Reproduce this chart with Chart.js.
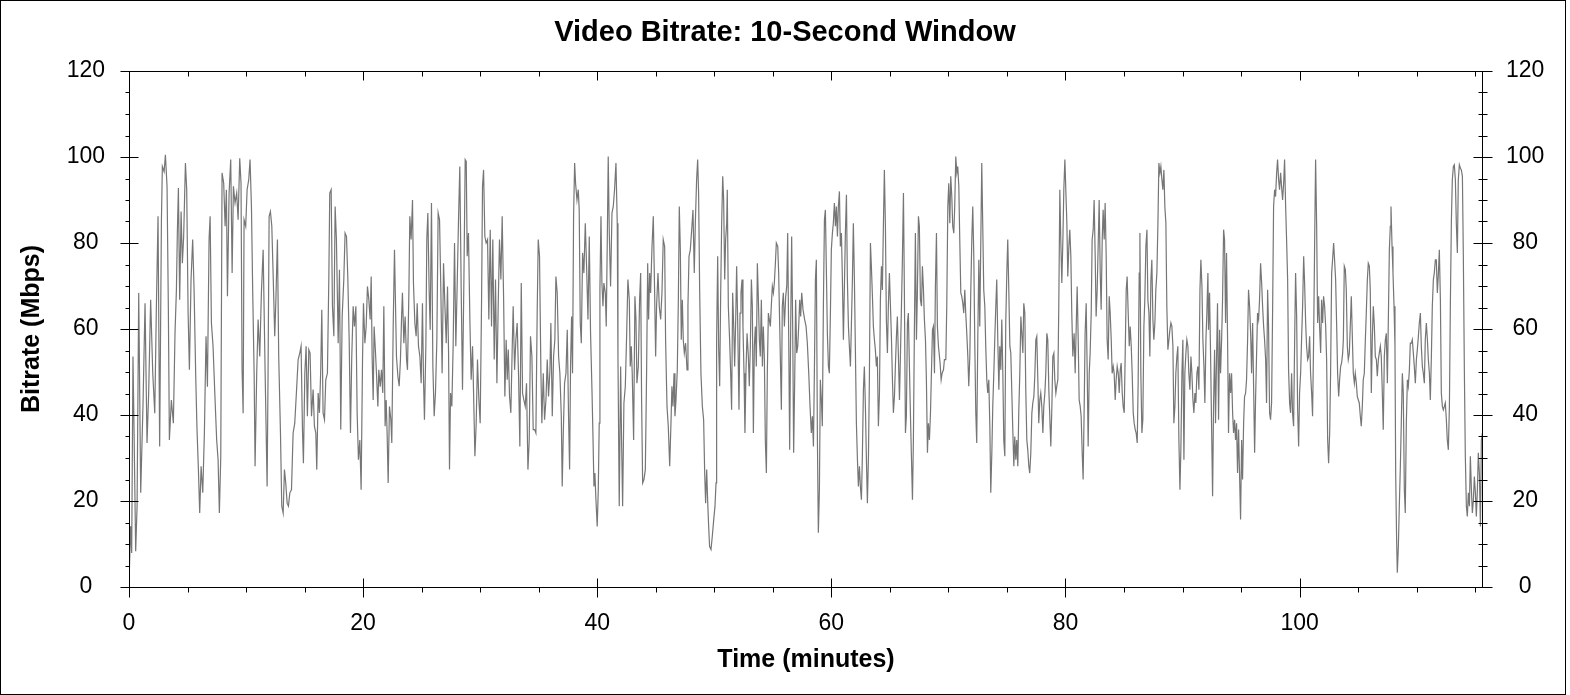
<!DOCTYPE html>
<html>
<head>
<meta charset="utf-8">
<title>Video Bitrate: 10-Second Window</title>
<script src="https://cdn.jsdelivr.net/npm/chart.js"></script>
<style>
  html, body { margin: 0; padding: 0; background: #fff; }
  #wrap { width: 1570px; height: 695px; }
</style>
</head>
<body>
<div id="wrap"><canvas id="chart" width="1570" height="695"></canvas></div>
<script>
// time of each sample, in minutes
const minutes = [
  0, 0.14, 0.23, 0.34, 0.43, 0.57, 0.69, 0.83, 1.00, 1.20,
  1.37, 1.54, 1.68, 1.85, 2.03, 2.20, 2.34, 2.48, 2.62, 2.77,
  2.85, 3.00, 3.11, 3.25, 3.36, 3.45, 3.62, 3.79, 3.93, 4.05,
  4.13, 4.22, 4.33, 4.45, 4.56, 4.67, 4.82, 4.93, 5.05, 5.16,
  5.30, 5.44, 5.56, 5.70, 5.81, 5.93, 6.04, 6.16, 6.30, 6.44,
  6.58, 6.70, 6.84, 6.93, 7.04, 7.18, 7.33, 7.49, 7.61, 7.72,
  7.84, 7.95, 8.09, 8.21, 8.32, 8.41, 8.55, 8.69, 8.81, 8.92,
  9.06, 9.20, 9.32, 9.46, 9.57, 9.66, 9.75, 9.83, 9.97, 10.09,
  10.23, 10.34, 10.46, 10.57, 10.69, 10.77, 10.91, 11.03, 11.17, 11.31,
  11.46,
  11.63, 11.80, 11.88, 11.97, 12.08, 12.20, 12.31, 12.45, 12.54, 12.68,
  12.79, 12.94, 13.05, 13.17, 13.28, 13.39, 13.51, 13.62, 13.74, 13.88,
  14.02, 14.16, 14.30, 14.45, 14.59, 14.70, 14.82, 14.90, 15.02, 15.13,
  15.24, 15.36, 15.47, 15.59, 15.73, 15.84, 15.96, 16.04, 16.16, 16.27,
  16.38, 16.47, 16.58, 16.70, 16.81, 16.95, 17.07, 17.15, 17.27, 17.38,
  17.50, 17.61, 17.72, 17.87, 17.98, 18.09, 18.21, 18.35, 18.46, 18.58,
  18.69, 18.81, 18.92, 19.03, 19.15, 19.26, 19.38, 19.49, 19.60, 19.72,
  19.83, 19.95, 20.03, 20.15, 20.26, 20.37, 20.49, 20.60, 20.69, 20.77,
  20.86, 20.94, 21.06, 21.14, 21.26, 21.34, 21.46, 21.57, 21.68, 21.77,
  21.88, 21.97, 22.05, 22.14, 22.25, 22.37, 22.45, 22.57, 22.68,
  22.85, 22.97, 23.08, 23.19, 23.28, 23.36, 23.48, 23.59, 23.71, 23.79,
  23.91, 23.99, 24.10, 24.22, 24.30, 24.42, 24.53, 24.62, 24.73, 24.85,
  24.96, 25.07, 25.16, 25.24, 25.36, 25.44, 25.53, 25.64, 25.73, 25.84,
  25.96, 26.07, 26.18, 26.30, 26.41, 26.53, 26.64, 26.75, 26.87, 26.98,
  27.10, 27.21, 27.30, 27.38, 27.47, 27.58, 27.69, 27.81, 27.92, 28.04,
  28.15, 28.26, 28.38, 28.49, 28.61, 28.72, 28.81, 28.89, 29.00, 29.12,
  29.23, 29.35, 29.43, 29.55, 29.66, 29.77, 29.89, 30.00, 30.12, 30.20,
  30.29, 30.40, 30.51, 30.63, 30.74, 30.86, 30.97, 31.08, 31.20, 31.31,
  31.43, 31.54, 31.65, 31.77, 31.88, 32.00, 32.11, 32.22, 32.31, 32.40,
  32.51, 32.62, 32.74, 32.82, 32.94, 33.05, 33.16, 33.28, 33.39, 33.51,
  33.62, 33.73, 33.85, 33.96, 34.08, 34.19, 34.30, 34.42, 34.53,
  34.65, 34.76, 34.87, 34.96, 35.07, 35.19, 35.27, 35.39, 35.50, 35.62,
  35.73, 35.84, 35.96, 36.04, 36.16, 36.27, 36.38, 36.47, 36.58, 36.70,
  36.81, 36.93, 37.01, 37.10, 37.21, 37.33, 37.44, 37.55, 37.64, 37.72,
  37.81, 37.89, 37.98, 38.07, 38.15, 38.27, 38.38, 38.46, 38.55, 38.64,
  38.75, 38.86, 38.98, 39.09, 39.21, 39.32, 39.43, 39.55, 39.63, 39.72,
  39.80, 39.89, 40.00, 40.09, 40.17, 40.23, 40.32, 40.40, 40.49, 40.57,
  40.69, 40.77, 40.86, 40.94, 41.03, 41.14, 41.26, 41.37, 41.48, 41.60,
  41.71, 41.77, 41.88, 42.00, 42.08, 42.17, 42.28, 42.40, 42.51, 42.62,
  42.74, 42.82, 42.91, 42.99, 43.11, 43.22, 43.31, 43.39, 43.51, 43.62,
  43.71, 43.79, 43.88, 43.99, 44.11, 44.22, 44.31, 44.39, 44.48, 44.56,
  44.68, 44.79, 44.90, 44.99, 45.07, 45.19, 45.30, 45.42, 45.53, 45.64,
  45.76, 45.84, 45.96, 46.07,
  46.19, 46.30, 46.38, 46.47, 46.56, 46.64, 46.73, 46.84, 46.93, 47.01,
  47.10, 47.18, 47.27, 47.35, 47.44, 47.55, 47.67, 47.75, 47.84, 47.95,
  48.07, 48.18, 48.29, 48.38, 48.49, 48.58, 48.66, 48.75, 48.86, 48.98,
  49.09, 49.18, 49.26, 49.35, 49.43, 49.52, 49.60, 49.72, 49.83, 49.95,
  50.06, 50.15, 50.20, 50.29, 50.37, 50.46, 50.54, 50.63, 50.72, 50.80,
  50.89, 50.97, 51.06, 51.11, 51.20, 51.31, 51.40, 51.48, 51.57, 51.66,
  51.74, 51.83, 51.91, 52.00, 52.11, 52.20, 52.28, 52.37, 52.45, 52.54,
  52.62, 52.71, 52.80, 52.91, 52.99, 53.08, 53.17, 53.25, 53.34, 53.42,
  53.51, 53.59, 53.68, 53.76, 53.85, 53.93, 54.02, 54.11, 54.19, 54.28,
  54.36, 54.45, 54.53, 54.62, 54.70, 54.79, 54.87, 54.96, 55.05, 55.13,
  55.22, 55.30, 55.42, 55.50, 55.59, 55.67, 55.73, 55.81, 55.90, 55.99,
  56.10, 56.19, 56.27, 56.36, 56.44, 56.53, 56.61, 56.70, 56.78, 56.87,
  56.95, 57.04, 57.13, 57.21, 57.30, 57.38, 57.47, 57.58,
  57.72, 57.84, 57.95, 58.07, 58.18, 58.29, 58.38, 58.47, 58.55, 58.64,
  58.72, 58.81, 58.89, 58.98, 59.06, 59.15, 59.23, 59.32, 59.41, 59.49,
  59.58, 59.66, 59.75, 59.83, 59.92, 60.00, 60.09, 60.17, 60.26, 60.35,
  60.43, 60.52, 60.60, 60.69, 60.77, 60.86, 60.94, 61.03, 61.11, 61.20,
  61.29, 61.37, 61.46, 61.54, 61.63, 61.71, 61.80, 61.88, 61.97, 62.05,
  62.14, 62.23, 62.31, 62.40, 62.48, 62.57, 62.65, 62.74, 62.82, 62.91,
  62.99, 63.08, 63.17, 63.25, 63.34, 63.42, 63.51, 63.59, 63.68, 63.76,
  63.85, 63.93, 64.02, 64.11, 64.19, 64.28, 64.36, 64.45, 64.53, 64.62,
  64.70, 64.79, 64.87, 64.96, 65.05, 65.13, 65.22, 65.30, 65.39, 65.47,
  65.56, 65.64, 65.73, 65.82, 65.90, 65.99, 66.07, 66.16, 66.24, 66.33,
  66.41, 66.50, 66.58, 66.67, 66.76, 66.84, 66.93, 67.01, 67.10, 67.18,
  67.27, 67.35, 67.44, 67.52, 67.61, 67.70, 67.78, 67.87, 67.95, 68.04,
  68.12, 68.21, 68.29, 68.38, 68.47, 68.55, 68.64, 68.72, 68.81, 68.89,
  68.98, 69.06,
  69.15, 69.29, 69.38, 69.46, 69.58, 69.66, 69.78, 69.86, 69.95, 70.03,
  70.12, 70.20, 70.29, 70.37, 70.46, 70.54, 70.63, 70.72, 70.80, 70.89,
  70.97, 71.06, 71.14, 71.23, 71.31, 71.40, 71.48, 71.57, 71.66, 71.74,
  71.83, 71.91, 72.00, 72.08, 72.17, 72.25, 72.34, 72.42, 72.51, 72.60,
  72.68, 72.77, 72.85, 72.94, 73.02, 73.11, 73.19, 73.28, 73.36, 73.45,
  73.54, 73.62, 73.71, 73.79, 73.88, 73.96, 74.05, 74.13, 74.22, 74.31,
  74.39, 74.48, 74.56, 74.65, 74.73, 74.82, 74.90, 74.99, 75.07, 75.16,
  75.25, 75.33, 75.42, 75.50, 75.59, 75.67, 75.76, 75.84, 75.93, 76.01,
  76.10, 76.19, 76.27, 76.36, 76.44, 76.53, 76.61, 76.70, 76.78, 76.87,
  76.95, 77.04, 77.13, 77.21, 77.30, 77.38, 77.47, 77.55, 77.64, 77.72,
  77.81, 77.89, 77.98, 78.07, 78.15, 78.24, 78.32, 78.41, 78.49, 78.58,
  78.66, 78.75, 78.84, 78.92, 79.01, 79.09, 79.18, 79.26, 79.35, 79.43,
  79.52, 79.60, 79.69, 79.78, 79.86, 79.95, 80.03, 80.12, 80.20, 80.29,
  80.37, 80.46, 80.54, 80.63,
  80.74, 80.83, 80.92, 81.00, 81.09, 81.17, 81.26, 81.34, 81.43, 81.51,
  81.60, 81.68, 81.77, 81.86, 81.94, 82.03, 82.11, 82.20, 82.28, 82.37,
  82.45, 82.54, 82.62, 82.71, 82.80, 82.88, 82.97, 83.05, 83.14, 83.22,
  83.31, 83.39, 83.48, 83.56, 83.65, 83.74, 83.82, 83.91, 83.99, 84.08,
  84.16, 84.25, 84.33, 84.42, 84.51, 84.59, 84.68, 84.76, 84.85, 84.93,
  85.02, 85.10, 85.19, 85.27, 85.36, 85.45, 85.53, 85.62, 85.70, 85.79,
  85.87, 85.96, 86.04, 86.13, 86.21, 86.30, 86.36, 86.44, 86.53, 86.61,
  86.70, 86.78, 86.87, 86.96, 87.04, 87.13, 87.21, 87.30, 87.38, 87.47,
  87.55, 87.64, 87.72, 87.81, 87.90, 87.98, 88.07, 88.15, 88.24, 88.32,
  88.41, 88.49, 88.58, 88.66, 88.75, 88.84, 88.92, 89.01, 89.09, 89.18,
  89.26, 89.35, 89.43, 89.52, 89.60, 89.69, 89.78, 89.86, 89.95, 90.03,
  90.12, 90.20, 90.29, 90.37, 90.46, 90.54, 90.63, 90.72, 90.80, 90.89,
  90.97, 91.06, 91.14, 91.23, 91.31, 91.40, 91.49, 91.57, 91.66, 91.74,
  91.83, 91.91, 92.00, 92.08, 92.17,
  92.22, 92.31, 92.40, 92.48, 92.57, 92.65, 92.74, 92.82, 92.91, 92.99,
  93.08, 93.17, 93.25, 93.34, 93.42, 93.51, 93.59, 93.68, 93.76, 93.85,
  93.93, 94.02, 94.11, 94.19, 94.28, 94.36, 94.45, 94.53, 94.62, 94.70,
  94.79, 94.87, 94.96, 95.05, 95.13, 95.22, 95.30, 95.39, 95.47, 95.56,
  95.64, 95.73, 95.82, 95.90, 95.99, 96.07, 96.16, 96.24, 96.33, 96.41,
  96.50, 96.58, 96.67, 96.76, 96.84, 96.93, 97.01, 97.10, 97.18, 97.27,
  97.35, 97.44, 97.52, 97.61, 97.70, 97.78, 97.87, 97.95, 98.04, 98.12,
  98.21, 98.29, 98.38, 98.46, 98.55, 98.64, 98.72, 98.81, 98.89, 98.98,
  99.06, 99.15, 99.23, 99.32, 99.40, 99.49, 99.58, 99.66, 99.75, 99.83,
  99.92, 100.00, 100.09, 100.17, 100.26, 100.35, 100.43, 100.52, 100.60, 100.69,
  100.77, 100.86, 100.94, 101.03, 101.11, 101.20, 101.29, 101.37, 101.46, 101.54,
  101.63, 101.71, 101.80, 101.88, 101.97, 102.05, 102.14, 102.23, 102.31, 102.40,
  102.48, 102.57, 102.65, 102.74, 102.82, 102.91, 102.99, 103.08, 103.17, 103.25,
  103.34, 103.42, 103.51, 103.59, 103.68,
  103.74, 103.82, 103.91, 103.99, 104.08, 104.16, 104.25, 104.33, 104.42, 104.50,
  104.59, 104.68, 104.76, 104.85, 104.93, 105.02, 105.10, 105.19, 105.27, 105.36,
  105.44, 105.53, 105.62, 105.70, 105.79, 105.87, 105.96, 106.04, 106.13, 106.21,
  106.30, 106.39, 106.47, 106.56, 106.64, 106.73, 106.81, 106.90, 106.98, 107.07,
  107.15, 107.24, 107.33, 107.41, 107.50, 107.58, 107.67, 107.75, 107.81, 107.90,
  107.98, 108.07, 108.15, 108.21, 108.29, 108.35, 108.44, 108.52, 108.61, 108.69,
  108.78, 108.86, 108.95, 109.03, 109.12, 109.21, 109.29, 109.38, 109.46, 109.55,
  109.63, 109.72, 109.80, 109.89, 109.98, 110.06, 110.15, 110.23, 110.32, 110.40,
  110.49, 110.57, 110.66, 110.74, 110.83, 110.92, 111.00, 111.09, 111.17, 111.26,
  111.34, 111.43, 111.51, 111.60, 111.68, 111.77, 111.86, 111.94, 112.03, 112.11,
  112.20, 112.28, 112.37, 112.45, 112.54, 112.62, 112.71, 112.80, 112.88, 112.97,
  113.05, 113.14, 113.22, 113.31, 113.39, 113.48, 113.56, 113.65, 113.74, 113.82,
  113.91, 113.99, 114.08, 114.16, 114.25, 114.33, 114.42, 114.51, 114.59, 114.68,
  114.76, 114.85, 114.93, 115.02, 115.10, 115.19, 115.27, 115.36, 115.45, 115.53,
  115.62
];

// 10-second window bitrate, Mbps
const mbps = [
  1, 14.1, 7.9, 53.6, 36.6, 8.3, 18.8, 68.4, 21.9, 42.8,
  66, 33.5, 45.1, 66.8, 49.7, 40.4, 65.3, 86.2, 32.7, 85.4,
  97.8, 96.6, 100.5, 93.2, 65.3, 34.2, 43.5, 38.1, 59, 69.1,
  82.3, 92.8, 66.8, 87.3, 75.3, 81.5, 98.6, 92.4, 63.7, 50.5,
  71.5, 80.8, 69.1, 49, 36.6, 27.3, 17.2, 28.1, 21.9, 35.8,
  58.3, 46.6, 80.8, 86.2, 61.4, 56, 45.1, 34.2, 29.6, 17.2,
  30.4, 96.3, 93.9, 83.9, 92.4, 67.6, 91.6, 99.4, 73, 93.2,
  89.3, 91.6, 85.4, 99.7, 93.9, 50.5, 40.4, 85.4, 83.9, 92.4,
  94.7, 99.4, 88.5, 68.4, 49.7, 28.1, 49.7, 62.2, 53.6, 68.4,
  78.4,
  49.7, 23.4, 49.7, 86.2, 87.3, 83.9, 73, 58.3, 66, 80.8,
  53.6, 35.8, 18.8, 17.2, 27.3, 24.2, 19.5, 18.8, 21.9, 22.6,
  35.8, 38.1, 45.1, 52.9, 54.4, 56, 36.6, 28.8, 49.7, 56,
  39.7, 55.2, 54.4, 39.7, 45.9, 37.4, 35.8, 27.3, 45.1, 40.5,
  50.5, 64.5, 40.5, 38.9, 48.2, 49.7, 71.5, 91.6, 92.4, 65.3,
  58.3, 88.5, 80.8, 56.7, 73.8, 36.6, 62.9, 71.5, 82.3, 81.5,
  72.2, 57.5, 35.8, 53.6, 65.3, 60.6, 65.3, 40.5, 29.6, 34.2,
  22.6, 52.9, 66, 56.7, 60.6, 69.9, 66.8, 62.2, 72.2, 53.6,
  43.5, 60.6, 54.4, 49.7, 42, 50.5, 46.6, 50.5, 45.1, 65.3,
  37.4, 43.5, 35.8, 24.2, 42, 38.9, 33.5, 60.6, 78.4,
  53.6, 49, 46.7, 52.9, 62.2, 68.4, 56.7, 62.9, 52.9, 50.5,
  68.4, 86.2, 80.8, 90, 70.7, 61.4, 58.3, 66, 56, 53.6,
  47.4, 66, 48.2, 38.9, 56, 80.8, 87, 69.1, 59.8, 89.3,
  51.3, 39.7, 45.1, 57.5, 87, 85.4, 69.1, 49.7, 75.3, 66,
  56.7, 69.9, 54.4, 27.3, 45.1, 42, 56, 80, 56, 70.7,
  85.4, 97.8, 69.1, 45.9, 71.5, 99.4, 99, 76.9, 82.3, 62.2,
  48.2, 56, 45.9, 30.4, 38.1, 52.9, 43.5, 38.1, 66.8, 93.2,
  97, 81.5, 80, 80.8, 62.2, 83.1, 60.6, 80.8, 52.9, 71.5,
  47.4, 65.3, 80.8, 71.5, 86.2, 67.6, 44.3, 57.5, 48.2, 55.2,
  44.3, 40.5, 56, 65.3, 50.5, 57.5, 61.4, 49, 32.7, 70.7,
  45.1, 43.5, 42, 47.4, 27.3, 34.2, 58.3, 53.6, 36.6,
  36.6, 35.8, 63.7, 80.8, 76.9, 49.7, 38.1, 49.7, 38.9, 43.5,
  52.9, 44.3, 50.5, 61.4, 39.7, 53.6, 57.5, 72.2, 68.4, 53.6,
  49.7, 39.7, 23.4, 35.8, 47.4, 49.7, 59.8, 39.7, 27.3, 51.3,
  62.9, 49.7, 86.2, 98.6, 93.9, 90, 92.4, 87.7, 61.4, 56.7,
  77.7, 73, 84.6, 74.6, 62.2, 81.5, 59, 45.9, 35.8, 23.4,
  26.5, 20.3, 14.1, 22.6, 38.1, 69.1, 86.2, 70.7, 65.3, 70.7,
  68.4, 60.6, 80.8, 100.1, 82.3, 69.9, 87, 88.5, 92.4, 98.6,
  84.6, 53.6, 18.8, 51.3, 34.2, 18.8, 42.8, 46.7, 58.3, 71.5,
  66.8, 51.3, 56, 49.7, 34.2, 67.6, 62.2, 47.4, 51.3, 66.8,
  73, 43.5, 24.2, 25, 27.3, 50.5, 75.3, 62.2, 73, 68.4,
  79.2, 86.2, 69.1, 53.6, 65.3, 73, 65.3, 62.2, 68.4, 80.8,
  79.2, 57.5, 42, 37.4,
  28.1, 38.1, 46.7, 42, 49.7, 39.7, 43.5, 50.5, 66.8, 88.5,
  78.4, 57.5, 66.8, 57.5, 54.4, 56.7, 50.5, 65.3, 76.9, 78.4,
  83.1, 87.7, 73, 84.6, 94.7, 99.4, 91.6, 69.1, 49.7, 42,
  38.9, 26.5, 19.5, 27.3, 20.3, 14.1, 9.4, 8.7, 11.8, 15.6,
  18.8, 24.2, 57.5, 76.9, 56, 46.7, 66.8, 84.6, 95.5, 90,
  71.5, 80.8, 84.6, 92.4, 65.3, 57.5, 49.7, 41.2, 68.4, 60.6,
  51.3, 62.2, 74.6, 61.4, 41.2, 63.7, 68.4, 71.5, 60.6, 49.7,
  35.8, 50.5, 59, 53.6, 46.7, 56, 71.5, 65.3, 35.8, 56,
  60.6, 51.3, 75.3, 67.6, 57.5, 53.6, 66.8, 51.3, 60.6, 52.9,
  34.2, 26.5, 49.7, 63.7, 62.2, 60.6, 65.3, 69.9, 68.4, 70.7,
  75.3, 80, 79.2, 73, 60.6, 49.7, 41.2, 65.3, 68.4, 60.6,
  67.6, 69.9, 82.3, 57.5, 31.9, 61.4, 81.5, 59.8, 31.2, 48.2,
  66.8, 54.4, 56, 60.6, 66.8, 62.9, 68.4, 64.5,
  62.2, 60.6, 56.7, 49.7, 42, 35.8, 39.7, 32.7, 49.7, 71.5,
  76.1, 34.2, 12.6, 22.6, 48.2, 43.5, 37.4, 65.3, 85.4, 87.7,
  73, 59, 51.3, 49.7, 63.7, 78.4, 82.3, 84.6, 89.3, 83.9,
  88.5, 81.5, 88.5, 92, 79.2, 82.3, 72.2, 57.5, 69.1, 82.3,
  91.2, 71.5, 60.6, 56, 51.3, 60.6, 71.5, 84.6, 71.5, 56,
  38.1, 29.6, 23.4, 28.1, 23.4, 20.3, 30.4, 45.9, 51.3, 42,
  30.4, 19.5, 30.4, 48.2, 80, 74.6, 67.6, 60.6, 57.5, 55.2,
  51.3, 53.6, 37.4, 45.1, 66.8, 74.6, 69.1, 84.6, 97, 83.9,
  62.2, 54.4, 65.3, 73, 65.3, 58.3, 48.2, 40.5, 44.3, 51.3,
  58.3, 62.9, 53.6, 43.5, 53.6, 65.3, 76.1, 91.6, 68.4, 35.8,
  39.7, 61.4, 63.7, 51.3, 39.7, 30.4, 20.3, 34.2, 61.4, 82.3,
  57.5, 68.4, 86.2, 83.9, 66.8, 65.3, 74.6, 69.1, 62.2, 57.5,
  48.2, 31.2, 38.1, 34.2, 40.5, 49.7, 59.8, 60.6, 49.7, 69.9,
  82.3, 60.6,
  56, 52.1, 48.2, 49.7, 50.5, 52.9, 52.9, 65.3, 88.5, 93.9,
  84.6, 95.5, 90.8, 83.9, 82.3, 88.5, 100.1, 96.3, 97.8, 93.2,
  80.8, 68.4, 67.6, 66, 63.7, 69.1, 63.7, 59, 53.6, 46.7,
  53.6, 68.4, 80.8, 88.5, 76.9, 57.5, 40.5, 33.5, 57.5, 76.1,
  60.6, 80.8, 98.6, 83.1, 69.1, 65.3, 56, 48.2, 45.1, 48.2,
  37.4, 21.9, 31.2, 42, 49.7, 57.5, 65.3, 71.5, 57.5, 45.9,
  56, 50.5, 62.2, 49.7, 34.2, 30.4, 61.4, 73, 80.8, 69.1,
  56, 54.4, 45.1, 36.6, 28.1, 35, 29.6, 34.2, 28.1, 40.5,
  49.7, 62.9, 59, 54.4, 66, 63.7, 45.9, 34.2, 31.9, 28.1,
  26.5, 31.2, 40.5, 42.8, 44.3, 49, 57.5, 58.3, 48.2, 38.1,
  43.5, 45.1, 42, 35.8, 42, 45.1, 49.7, 59, 57.5, 45.9,
  39.7, 32.7, 42, 53.6, 54.4, 48.2, 45.1, 46.7, 48.2, 65.3,
  92.4, 80.8, 70.7, 80.8, 92.4, 99.4, 92.4, 84.6, 72.2, 79.2,
  83.1, 76.9, 63.7, 53.6,
  59, 49.7, 60.6, 69.9, 57.5, 43.5, 42, 39.7, 31.2, 25,
  42, 59, 66, 49.7, 32.7, 49.7, 54.4, 63.7, 80.8, 83.1,
  90, 76.9, 62.9, 69.1, 80, 90, 73, 64.5, 80.8, 87.7,
  80.8, 89.3, 76.9, 57.5, 52.9, 67.6, 63.7, 57.5, 49.7, 51.3,
  49.7, 43.5, 48.2, 51.3, 49.7, 45.1, 50.5, 52.1, 45.1, 42,
  40.5, 53.6, 69.1, 72.2, 63.7, 56, 60.6, 56, 49.7, 40.5,
  38.1, 36.6, 35.8, 33.5, 47.4, 73, 82.3, 49.7, 35.8, 38.9,
  60.6, 66.8, 79.2, 83.1, 66.8, 63.7, 53.6, 71.5, 76.1, 62.2,
  57.5, 61.4, 69.1, 73, 84.6, 98.6, 96.3, 97.8, 94.7, 92.4,
  97, 88.5, 84.6, 65.3, 55.2, 57.5, 59.8, 61.4, 60.6, 56,
  38.1, 42, 49.7, 53.6, 56, 34.2, 22.6, 31.9, 49.7, 57.5,
  29.6, 49.7, 54.4, 57.5, 56, 49.7, 45.9, 53.6, 49.7, 43.5,
  40.5, 45.1, 42.8, 49.7, 51.3, 45.9, 69.1, 76.1, 69.9, 57.5,
  51.3, 42.8, 57.5, 63.7, 73,
  59.8, 68.4, 53.6, 38.1, 21.1, 42, 55.2, 38.1, 53.6, 66,
  38.9, 59.8, 49.7, 57.5, 66.8, 83.1, 80.8, 61.4, 77.7, 57.5,
  35.8, 49.7, 45.1, 49.7, 40.5, 35.8, 38.9, 34.2, 38.1, 26.5,
  36.6, 26.5, 15.7, 34.2, 25, 38.1, 44.3, 45.1, 48.2, 57.5,
  69.1, 65.3, 59, 49.7, 61.4, 47.4, 31.2, 43.5, 54.4, 63.7,
  62.2, 66.8, 75.3, 70.7, 65.3, 60.6, 57.5, 52.9, 42.8, 69.1,
  60.6, 40.5, 38.9, 42.8, 65.3, 88.5, 92.4, 90.8, 96.3, 99.4,
  94.7, 92.4, 96.3, 93.2, 90, 93.9, 99.4, 88.5, 80.8, 71.5,
  50.5, 42.8, 40.5, 49.7, 40.5, 37.4, 57.5, 73, 62.9, 42,
  32.7, 45.1, 49.7, 57.5, 65.3, 76.9, 70.7, 61.4, 56, 52.9,
  53.6, 58.3, 49.7, 45.1, 39.7, 57.5, 80.8, 99.4, 83.9, 61.4,
  67.6, 60.6, 54.4, 66.8, 61.4, 67.6, 65.3, 60.6, 52.9, 34.2,
  28.8, 35.8, 49.7, 73, 76.1, 80, 76.1, 71.5, 60.6, 49.7,
  44.3, 48.2, 51.3, 52.1, 54.4,
  57.5, 74.6, 73.8, 69.1, 56, 52.9, 54.4, 60.6, 67.6, 59,
  49.7, 47.4, 49.7, 47.4, 44.3, 43.5, 42.8, 39.7, 37.4, 42,
  48.2, 49.7, 57.5, 63.7, 71.5, 75.3, 74.6, 69.1, 45.1, 57.5,
  65.3, 60.6, 53.6, 52.9, 49, 52.9, 54.4, 56, 53.6, 45.1,
  36.6, 53.6, 57.5, 59, 47.4, 61.4, 78.4, 83.9, 88.5, 79.2,
  73, 65.3, 56, 26.5, 11, 3.3, 9.5, 18.8, 28.1, 38.1,
  49.7, 45.1, 22.6, 17.2, 38.1, 48.2, 46.7, 50.5, 56.7, 56.7,
  57.5, 54.4, 51.3, 47.4, 52.9, 55.2, 58.3, 61.4, 63.7, 56,
  51.3, 49.7, 47.4, 57.5, 61.4, 57.5, 52.9, 49.7, 43.5, 53.6,
  65.3, 71.5, 73, 76.1, 76.1, 68.4, 73, 78.4, 66.8, 45.1,
  42, 41.2, 42, 42.8, 38.9, 34.2, 31.9, 42, 65.3, 85.4,
  94.7, 97.8, 98.2, 94.7, 84.6, 77.7, 94.7, 98.2, 97.4, 97,
  95.5, 76.9, 49.7, 30.4, 18.8, 16.4, 21.9, 18.8, 30.4, 22.6,
  17.2, 20.3, 25.7, 21.9, 16.4, 22.6, 31.2, 26.5, 14.1, 34.2,
  35.8
];

const xTickValues = [0, 20, 40, 60, 80, 100];
const yTickValues = [0, 20, 40, 60, 80, 100, 120];
const xMinorStep = 5;
const yMinorStep = 5;
const xMax = 115.67;

const FONT = '"Liberation Sans", Arial, Helvetica, sans-serif';

// plot frame, outer border and tick marks (ticks cross the axis lines like the original)
const framePlugin = {
  id: 'frame',
  afterDraw(chart) {
    const { ctx, chartArea: a, scales } = chart;
    const px = v => Math.round(scales.x.getPixelForValue(v)) + 0.5;
    const py = v => Math.round(scales.y.getPixelForValue(v)) + 0.5;
    ctx.save();
    ctx.strokeStyle = '#000';
    ctx.lineWidth = 1;
    ctx.strokeRect(0.5, 0.5, 1565, 694);
    ctx.strokeRect(a.left + 0.5, a.top + 0.5, a.right - a.left - 1, a.bottom - a.top);

    const L = a.left + 0.5, R = a.right - 0.5, T = a.top + 0.5, B = a.bottom + 0.5;
    ctx.beginPath();
    for (let v = 0; v <= xMax; v += xMinorStep) {
      const x = px(v);
      if (xTickValues.includes(v)) {
        ctx.moveTo(x, B - 9); ctx.lineTo(x, B + 10);
        ctx.moveTo(x, T); ctx.lineTo(x, T + 9);
      } else {
        ctx.moveTo(x, B); ctx.lineTo(x, B + 5);
        ctx.moveTo(x, T); ctx.lineTo(x, T + 5);
      }
    }
    for (let v = 0; v <= 120; v += yMinorStep) {
      const y = py(v);
      if (yTickValues.includes(v)) {
        ctx.moveTo(L - 9, y); ctx.lineTo(L + 9, y);
        ctx.moveTo(R - 9, y); ctx.lineTo(R + 10, y);
      } else {
        ctx.moveTo(L - 4, y); ctx.lineTo(L, y);
        ctx.moveTo(R - 4, y); ctx.lineTo(R + 5, y);
      }
    }
    ctx.stroke();
    ctx.restore();
  }
};

const tickFont = { family: FONT, size: 23 };
const titleFont = { family: FONT, size: 25, weight: 'bold' };

new Chart(document.getElementById('chart'), {
  type: 'line',
  data: {
    datasets: [{
      label: 'Video Bitrate',
      data: minutes.map((m, i) => ({ x: m, y: mbps[i] })),
      borderColor: '#767676',
      borderWidth: 1.2,
      pointRadius: 0,
      tension: 0,
      fill: false
    }]
  },
  options: {
    responsive: false,
    animation: false,
    devicePixelRatio: 1,
    layout: { padding: 0 },
    plugins: {
      legend: { display: false },
      tooltip: { enabled: false },
      title: {
        display: true,
        text: 'Video Bitrate: 10-Second Window',
        color: '#000',
        font: { family: FONT, size: 29, weight: 'bold' },
        padding: { top: 16, bottom: 20.2 }
      }
    },
    scales: {
      x: {
        type: 'linear',
        min: 0,
        max: xMax,
        afterBuildTicks: s => { s.ticks = xTickValues.map(v => ({ value: v })); },
        afterFit: s => { s.height = 108; },
        grid: { display: false, drawTicks: false },
        border: { display: false },
        ticks: { color: '#000', font: tickFont, padding: 23, maxRotation: 0, autoSkip: false },
        title: {
          display: true, text: 'Time (minutes)', color: '#000', font: titleFont,
          padding: { top: 0, bottom: 19.5 }
        }
      },
      y: {
        position: 'left',
        min: 0,
        max: 120,
        afterBuildTicks: s => { s.ticks = yTickValues.map(v => ({ value: v })); },
        afterFit: s => { s.width = 129; },
        grid: { display: false, drawTicks: false },
        border: { display: false },
        ticks: { color: '#000', font: tickFont, padding: 24, crossAlign: 'center' },
        title: {
          display: true, text: 'Bitrate (Mbps)', color: '#000', font: titleFont,
          padding: { top: 17, bottom: 0 }
        }
      },
      y2: {
        position: 'right',
        min: 0,
        max: 120,
        afterBuildTicks: s => { s.ticks = yTickValues.map(v => ({ value: v })); },
        afterFit: s => { s.width = 87; },
        grid: { display: false, drawTicks: false },
        border: { display: false },
        ticks: { color: '#000', font: tickFont, padding: 23, crossAlign: 'center' }
      }
    }
  },
  plugins: [framePlugin]
});
</script>
</body>
</html>
